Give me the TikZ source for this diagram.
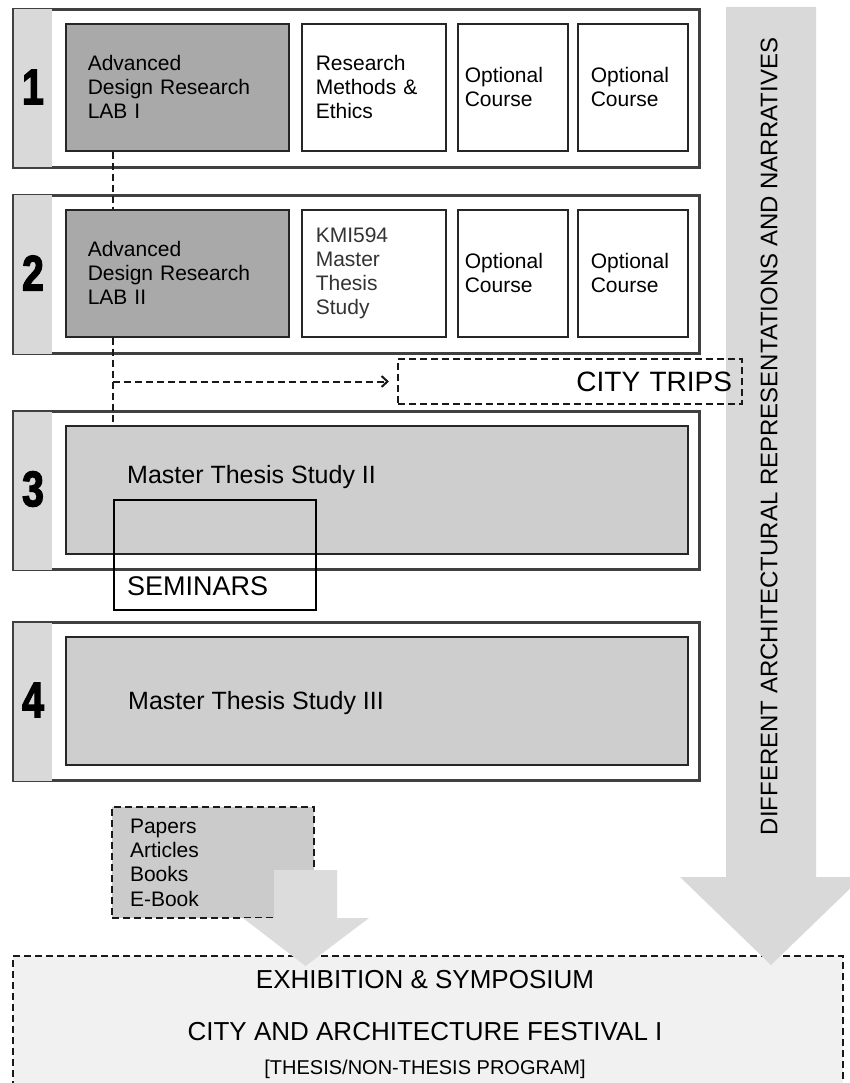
\documentclass[tikz,border=0pt]{standalone}
\usepackage{fontspec}
\setmainfont{Liberation Sans}
\newfontfamily\numfont[FakeStretch=0.78,FakeBold=2.5]{Liberation Sans}
\usetikzlibrary{arrows.meta}
\definecolor{labgray}{HTML}{A9A9A9}
\definecolor{thesisgray}{HTML}{CECECE}
\definecolor{stripgray}{HTML}{D9D9D9}
\definecolor{arrowgray}{HTML}{D9D9D9}
\definecolor{smallarrowgray}{HTML}{DCDCDC}
\definecolor{papergray}{HTML}{CBCBCB}
\definecolor{bottomgray}{HTML}{F1F1F1}
\definecolor{framegray}{HTML}{404040}
\begin{document}
\begin{tikzpicture}[x=1pt,y=-1pt,
  rowbox/.style={draw=framegray, line width=3pt, fill=white, anchor=north west,
    minimum width=686, minimum height=158, inner sep=0pt},
  num/.style={font=\numfont\bfseries\fontsize{50}{50}\selectfont},
  course/.style={draw=black!85, line width=1.6pt, anchor=north west, minimum height=127,
    align=left, font=\fontsize{21}{24}\selectfont, inner ysep=0pt},
  lab/.style={course, fill=labgray, text width=179, inner xsep=22},
  rm/.style={course, fill=white, text width=116, inner xsep=14},
  optA/.style={course, fill=white, text width=96, inner xsep=7},
  optB/.style={course, fill=white, text width=84, inner xsep=13},
  thesis/.style={draw=black!85, line width=1.6pt, fill=thesisgray, anchor=north west,
    minimum width=622, minimum height=128, inner sep=0pt},
  bigtext/.style={font=\fontsize{25}{28}\selectfont, anchor=base west, inner sep=0pt},
  dashline/.style={dash pattern=on 7pt off 4pt, line width=2pt, draw=black!90},
  bottomtext/.style={font=\fontsize{26}{28}\selectfont, anchor=base, inner sep=0pt}
]
\clip (0,0) rectangle (850,1083);
\fill[white] (0,0) rectangle (850,1083);

% bottom festival box
\node[dashline, fill=bottomgray, anchor=north west, minimum width=830, minimum height=140, inner sep=0pt] (fest) at (12,955) {};
\node[bottomtext] (ex) at (425,988) {EXHIBITION \& SYMPOSIUM};
\node[bottomtext] (caf) at (425,1040) {CITY AND ARCHITECTURE FESTIVAL I};
\node[bottomtext, font=\fontsize{20}{22}\selectfont] (prog) at (425,1074) {[THESIS/NON-THESIS PROGRAM]};

% papers box
\node[dashline, fill=papergray, anchor=north west, minimum width=202, minimum height=111,
  text width=166, inner xsep=18, inner ysep=0pt, align=left, font=\fontsize{21}{24.3}\selectfont] (pap) at (111,806) {Papers\\Articles\\Books\\E-Book};

% big arrow
\fill[arrowgray] (726,7) -- (816,7) -- (816,877) -- (862,877) -- (771,965) -- (680,877) -- (726,877) -- cycle;
\node[rotate=90, font=\fontsize{24}{24}\selectfont, inner sep=0pt] (vt) at (769,436.5) {DIFFERENT ARCHITECTURAL REPRESENTATIONS AND NARRATIVES};

% small arrow
\fill[smallarrowgray] (274,870) -- (337,870) -- (337,918) -- (369,918) -- (305.5,966) -- (243,918) -- (274,918) -- cycle;

% rows
\foreach \r/\y in {1/8, 2/194, 3/410, 4/621}{
  \node[rowbox] (row\r) at (12,\y) {};
  \fill[stripgray] ([shift={(1.5,1.5)}]row\r.north west) rectangle ([shift={(40,-1.5)}]row\r.south west);
}
\node[num] (n1) at (33,87) {1};
\node[num] (n2) at (33,273) {2};
\node[num] (n3) at (33,489) {3};
\node[num] (n4) at (33,700) {4};

% semester 1
\node[lab] (lab1) at (65,23) {Advanced\\Design Research\\LAB I};
\node[rm] (rm1) at (301,23) {Research\\Methods \&\\Ethics};
\node[optA] (opt11) at (457,23) {Optional\\Course};
\node[optB] (opt12) at (577,23) {Optional\\Course};

% semester 2
\node[lab] (lab2) at (65,209) {Advanced\\Design Research\\LAB II};
\node[rm, text=black!80] (kmi) at (301,209) {KMI594\\Master\\Thesis\\Study};
\node[optA] (opt21) at (457,209) {Optional\\Course};
\node[optB] (opt22) at (577,209) {Optional\\Course};

% semester 3
\node[thesis] (th3) at (65,425) {};
\node[bigtext] (th3t) at (127,483) {Master Thesis Study II};
\node[draw=black, line width=1.6pt, anchor=north west, minimum width=202, minimum height=110, inner sep=0pt] (sem) at (113,499) {};
\node[bigtext, font=\fontsize{27}{30}\selectfont] (semt) at (127,595.7) {SEMINARS};

% semester 4
\node[thesis] (th4) at (65,636) {};
\node[bigtext] (th4t) at (128,709) {Master Thesis Study III};

% city trips
\node[dashline, anchor=north west, minimum width=344, minimum height=45, text width=324,
  inner xsep=10, inner ysep=0pt, align=right, font=\fontsize{28}{30}\selectfont] (trips) at (397,358) {CITY TRIPS};

% connectors
\draw[dashline] (lab1.south -| sem.north west) -- (lab2.north -| sem.north west);
\draw[dashline] (lab2.south -| sem.north west) -- (th3.north -| sem.north west);
\draw[dashline, -{Straight Barb[length=6pt,width=11pt]}] (trips.west -| sem.north west) -- ([xshift=-8pt]trips.west);
\end{tikzpicture}
\end{document}
